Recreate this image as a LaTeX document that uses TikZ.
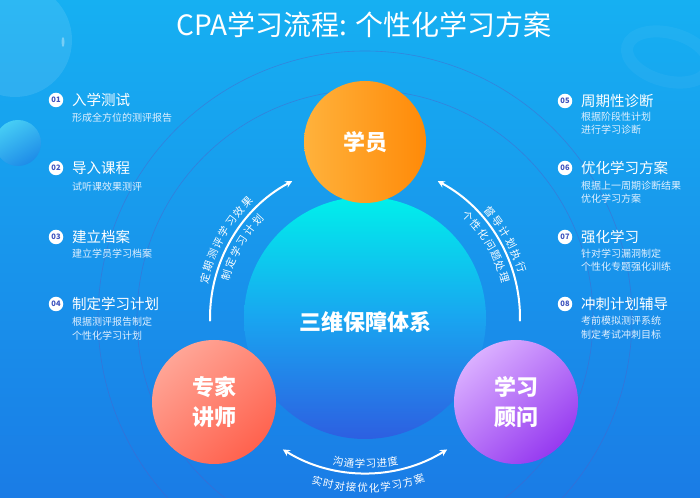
\documentclass[tikz,border=0pt]{standalone}
\usepackage{fontspec}
\setmainfont{Noto Sans CJK SC}
\usetikzlibrary{arrows.meta,calc}
\definecolor{bgtop}{RGB}{22,176,242}
\definecolor{bgbot}{RGB}{26,124,230}
\definecolor{ringc}{RGB}{80,96,200}
\definecolor{hubtop}{RGB}{0,240,235}
\definecolor{hubmid}{RGB}{25,165,240}
\definecolor{hubbot}{RGB}{45,95,225}
\definecolor{stuL}{RGB}{255,178,60}
\definecolor{stuR}{RGB}{255,138,8}
\definecolor{tchA}{RGB}{255,165,150}
\definecolor{tchB}{RGB}{255,98,78}
\definecolor{advA}{RGB}{218,175,255}
\definecolor{advB}{RGB}{150,58,240}
\definecolor{badgeblue}{RGB}{60,82,190}
\definecolor{subwhite}{RGB}{225,240,255}
\newcommand\arctext[6]{%
  \foreach \ch [count=\i from 0] in {#6} {%
    \pgfmathsetmacro\ang{#3+\i*(#4)}%
    \pgfmathsetmacro\rot{\ang+#5}%
    \node[arcchar, rotate=\rot] (#1\i) at ([shift={(\ang:#2)}]C) {\ch};
  }}
\begin{document}
\begin{tikzpicture}[x=1pt,y=1pt,
  thinring/.style={draw=ringc, line width=0.6pt, opacity=0.5},
  bigcirc/.style={circle, inner sep=0pt, minimum size=124pt, text=white, align=center,
    font=\fontsize{22}{30}\selectfont\bfseries},
  flowarrow/.style={draw=white, line width=2pt, line cap=round,
    -{Stealth[length=7pt,width=7pt]}},
  flowarrowboth/.style={draw=white, line width=2pt, line cap=round,
    {Stealth[length=7pt,width=7pt]}-{Stealth[length=7pt,width=7pt]}},
  arcchar/.style={inner sep=0pt, text=white, font=\fontsize{10.5}{11}\selectfont},
  badge/.style={circle, fill=white, minimum size=14.5pt, inner sep=0pt, text=badgeblue,
    font=\fontsize{7.5}{8}\selectfont\bfseries},
  itemtitle/.style={anchor=west, inner sep=0pt, text=white, font=\fontsize{14.5}{16}\selectfont},
  itemsub/.style={anchor=west, inner sep=0pt, text=subwhite, font=\fontsize{10}{12}\selectfont}
]
\useasboundingbox (0,0) rectangle (700,497);
\begin{scope}
  \clip (0,0) rectangle (700,497);
  \fill[top color=bgtop, bottom color=bgbot] (0,0) rectangle (700,497);
  % decorative bubbles
  \fill[white, opacity=0.1] (15,457) circle[radius=57];
  \fill[white, opacity=0.35] (63,455) ellipse[x radius=1.5, y radius=5];
  \shade[top color={rgb,255:red,70;green,205;blue,245}, bottom color={rgb,255:red,30;green,140;blue,232}, shading angle=30] (18,354) circle[radius=23];
  \draw[white, opacity=0.045, line width=12pt, rotate around={-15:(668,440)}] (668,440) ellipse[x radius=42, y radius=24];
  \coordinate (C) at (365,179);
  \draw[thinring] (C) circle[radius=267];
  \draw[thinring] (C) circle[radius=228];
\end{scope}

% title
\node[text=white, inner sep=0pt, font=\fontsize{28}{30}\selectfont] (title) at (364,472) {CPA学习流程: 个性化学习方案};

% hub
\node[circle, inner sep=0pt, minimum size=242pt, top color=hubtop, bottom color=hubbot, middle color=hubmid] (hub) at (C) {};
\node[text=white, inner sep=0pt, font=\fontsize{22}{24}\selectfont\bfseries] (hubtext) at (365,175) {三维保障体系};

% three circles
\node[bigcirc, left color=stuL, right color=stuR, minimum size=122pt] (stu) at (365,355) {学员};
\node[bigcirc, top color=tchA, bottom color=tchB, shading angle=40] (tch) at (214,95) {专家\\讲师};
\node[bigcirc, top color=advA, bottom color=advB, shading angle=40] (adv) at (516,95) {学习\\顾问};

% arrows
\coordinate (la) at ([shift={(181:155)}]C);
\coordinate (ra) at ([shift={(-1:155)}]C);
\coordinate (ba) at ([shift={(238:155)}]C);
\draw[flowarrow] (la) arc[start angle=181, end angle=118, radius=155];
\draw[flowarrow] (ra) arc[start angle=-1, end angle=62, radius=155];
\draw[flowarrowboth] (ba) arc[start angle=238, end angle=302, radius=155];

% arc texts
\arctext{lo}{165}{166}{-4.36}{-90}{定,期,测,评,学,习,效,果}
\arctext{li}{145}{163}{-5.08}{-90}{制,定,学,习,计,划}
\arctext{ro}{164}{40.5}{-4.5}{-90}{督,导,计,划,执,行}
\arctext{ri}{145}{44.7}{-4.77}{-90}{个,性,化,问,题,处,理}
\arctext{bi}{146}{259.4}{4.32}{90}{沟,通,学,习,进,度}
\arctext{bo}{170}{253.7}{3.87}{90}{实,时,对,接,优,化,学,习,方,案}

% left list
\node[badge] (b1) at (56,397) {01};
\node[itemtitle] (t1) at (72,397) {入学测试};
\node[itemsub] (s1) at (72,379) {形成全方位的测评报告};
\node[badge] (b2) at (56,329) {02};
\node[itemtitle] (t2) at (72,329) {导入课程};
\node[itemsub] (s2) at (72,310) {试听课效果测评};
\node[badge] (b3) at (56,260) {03};
\node[itemtitle] (t3) at (72,260) {建立档案};
\node[itemsub] (s3) at (72,243) {建立学员学习档案};
\node[badge] (b4) at (56,193) {04};
\node[itemtitle] (t4) at (72,193) {制定学习计划};
\node[itemsub] (s4a) at (72,175) {根据测评报告制定};
\node[itemsub] (s4b) at (72,161) {个性化学习计划};

% right list
\node[badge] (b5) at (565,396) {05};
\node[itemtitle] (t5) at (581,396) {周期性诊断};
\node[itemsub] (s5a) at (581,380) {根据阶段性计划};
\node[itemsub] (s5b) at (581,367) {进行学习诊断};
\node[badge] (b6) at (565,329) {06};
\node[itemtitle] (t6) at (581,329) {优化学习方案};
\node[itemsub] (s6a) at (581,311) {根据上一周期诊断结果};
\node[itemsub] (s6b) at (581,298) {优化学习方案};
\node[badge] (b7) at (565,260) {07};
\node[itemtitle] (t7) at (581,260) {强化学习};
\node[itemsub] (s7a) at (581,243) {针对学习漏洞制定};
\node[itemsub] (s7b) at (581,230) {个性化专题强化训练};
\node[badge] (b8) at (565,193) {08};
\node[itemtitle] (t8) at (581,193) {冲刺计划辅导};
\node[itemsub] (s8a) at (581,176) {考前模拟测评系统};
\node[itemsub] (s8b) at (581,162) {制定考试冲刺目标};
\end{tikzpicture}
\end{document}
